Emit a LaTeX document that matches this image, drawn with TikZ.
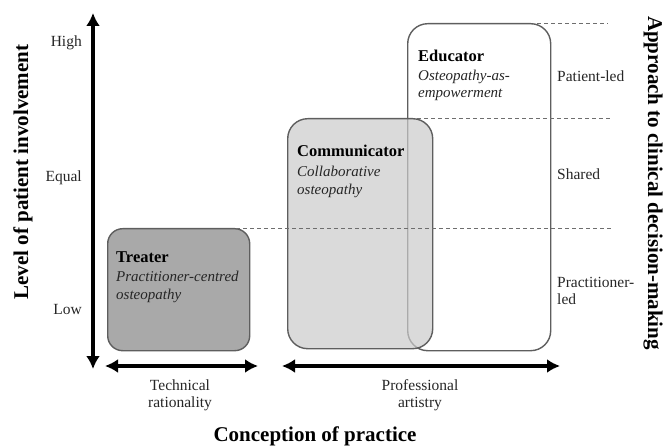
\documentclass[tikz,border=0pt]{standalone}
\usepackage{fontspec}
\setmainfont{Liberation Serif}
\usetikzlibrary{arrows.meta}
\definecolor{treaterfill}{HTML}{A9A9A9}
\definecolor{commfill}{HTML}{CBCBCB}
\definecolor{boxline}{HTML}{5E5E5E}
\definecolor{dashgray}{HTML}{6E6E6E}
\definecolor{labeltext}{HTML}{262626}
\begin{document}
\begin{tikzpicture}[x=1pt,y=-1pt,
  rolebox/.style={draw=boxline, line width=1.4pt, inner sep=0pt, anchor=north west},
  roletitle/.style={font=\bfseries\fontsize{16.5}{18}\selectfont, anchor=base west, inner sep=0pt, text=black},
  rolesub/.style={font=\itshape\fontsize{15}{18}\selectfont, anchor=base west, inner sep=0pt, text=labeltext},
  axislabel/.style={font=\fontsize{15.5}{17}\selectfont, inner sep=0pt, text=labeltext},
  axistitle/.style={font=\bfseries\fontsize{21}{23}\selectfont, inner sep=0pt, text=black},
  bigdouble/.style={line width=4pt, {Latex[length=13pt,width=14pt]}-{Latex[length=13pt,width=14pt]}},
  dashline/.style={draw=dashgray, line width=0.9pt, dash pattern=on 4pt off 3pt}
]
\useasboundingbox (0,0) rectangle (664,446);

% boxes
\node[rolebox, fill=white, rounded corners=20pt, minimum width=143pt, minimum height=327pt] (educator) at (407,23) {};
\node[rolebox, fill=commfill, fill opacity=0.7, rounded corners=20pt, minimum width=145pt, minimum height=230pt] (communicator) at (287,118) {};
\node[rolebox, fill=treaterfill, rounded corners=15pt, minimum width=142pt, minimum height=122pt] (treater) at (107,228) {};

% dashed guide lines
\coordinate (dtop) at (608,23);
\coordinate (dmid) at (612,118);
\coordinate (dlow) at (612,228);
\draw[dashline] ([xshift=-14pt]educator.north east) -- (dtop);
\draw[dashline] ([xshift=-16pt]communicator.north east) -- (dmid);
\draw[dashline] ([xshift=-14pt]treater.north east) -- (dlow);

% box texts
\node[roletitle] (tt) at (116,263) {Treater};
\node[rolesub] (ts1) at (116,282) {Practitioner-centred};
\node[rolesub] (ts2) at (116,300) {osteopathy};

\node[roletitle] (ct) at (297,157) {Communicator};
\node[rolesub] (cs1) at (297,177) {Collaborative};
\node[rolesub] (cs2) at (297,195) {osteopathy};

\node[roletitle] (et) at (418,62) {Educator};
\node[rolesub] (es1) at (418,81) {Osteopathy-as-};
\node[rolesub] (es2) at (418,98) {empowerment};

% vertical axis
\coordinate (vtop) at (93,13);
\coordinate (vbot) at (93,369);
\draw[bigdouble] (vbot) -- (vtop);
\node[axislabel, anchor=base east] (high) at (82,47) {High};
\node[axislabel, anchor=base east] (equal) at (82,182) {Equal};
\node[axislabel, anchor=base east] (low) at (82,315) {Low};
\node[axistitle, rotate=90] (ytitle) at (23,172) {Level of patient involvement};

% right side labels
\node[axislabel, anchor=base west] (pl) at (557,82) {Patient-led};
\node[axislabel, anchor=base west] (sh) at (557,180) {Shared};
\node[axislabel, anchor=base west] (pr1) at (557,288) {Practitioner-};
\node[axislabel, anchor=base west] (pr2) at (557,305) {led};
\node[axistitle, rotate=-90] (rtitle) at (653,183) {Approach to clinical decision-making};

% horizontal axes
\coordinate (h1a) at (105,366);
\coordinate (h1b) at (258,366);
\coordinate (h2a) at (282,366);
\coordinate (h2b) at (560,366);
\draw[bigdouble] (h1a) -- (h1b);
\draw[bigdouble] (h2a) -- (h2b);
\node[axislabel, anchor=base] (tech1) at (180,390) {Technical};
\node[axislabel, anchor=base] (tech2) at (180,407) {rationality};
\node[axislabel, anchor=base] (prof1) at (420,390) {Professional};
\node[axislabel, anchor=base] (prof2) at (420,407) {artistry};
\node[axistitle, anchor=base] (xtitle) at (315,441) {Conception of practice};
\end{tikzpicture}
\end{document}
